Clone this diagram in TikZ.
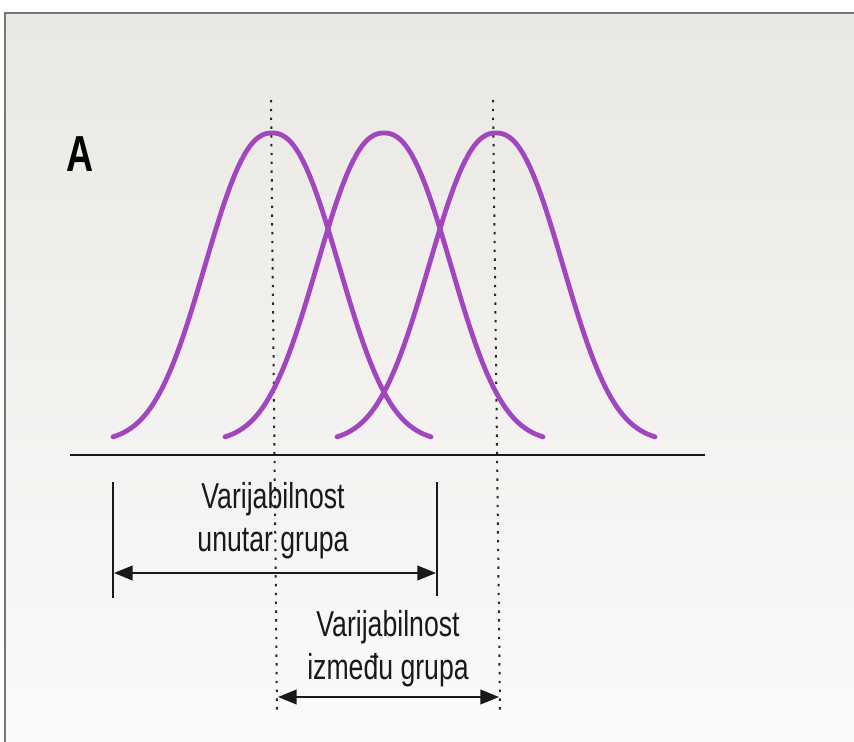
\documentclass[tikz,border=0pt]{standalone}
\usepackage{fontspec}
\newfontfamily\labfont[FakeStretch=0.74]{Liberation Sans}
\usetikzlibrary{arrows.meta}
\definecolor{bell}{RGB}{162,70,192}
\definecolor{framegray}{RGB}{118,118,118}
\tikzset{
  bellcurve/.style={draw=bell, line width=3.6pt, line cap=round},
  guide/.style={draw=black!85, line width=1.5pt, dash pattern=on 1.8pt off 4.8pt},
  tick/.style={draw=black!90, line width=1.3pt},
  span/.style={draw=black!90, line width=1.4pt, {Triangle[length=14pt,width=11pt]}-{Triangle[length=14pt,width=11pt]}},
  lab/.style={font=\labfont\fontsize{27}{32.3}\selectfont, align=center, inner sep=0pt, text=black!90},
}
\begin{document}
\begin{tikzpicture}[x=0.75pt,y=-0.75pt]
\useasboundingbox (0,0) rectangle (854,742);
\fill[white] (0,0) rectangle (854,742);
\shade[top color={rgb,255:red,234;green,232;blue,228}, bottom color={rgb,255:red,250;green,250;blue,249}] (5,13) rectangle (854,742);
\draw[framegray, line width=2pt] (5,742) -- (5,13) -- (854,13);

% panel letter
\node[font=\labfont\bfseries\fontsize{38}{40}\selectfont, inner sep=0pt] (A) at (80,154) {A};

% dotted guides
\coordinate (g1t) at (271,100); \coordinate (g1b) at (277,711);
\coordinate (g2t) at (493,100); \coordinate (g2b) at (500,711);
\draw[guide] (g1t) -- (g1b);
\draw[guide] (g2t) -- (g2b);

% bell curves
\foreach \c in {272,384,496}{
  \draw[bellcurve] plot[domain=-159:159, samples=90, smooth] ({\c+\x},{442-309*exp(-((abs(\x)+0.01)/86.2)^2.3)});
}

% axis
\coordinate (ax1) at (70,455); \coordinate (ax2) at (705,455);
\draw[black!90, line width=1.7pt] (ax1) -- (ax2);

% within-group span
\coordinate (w1t) at (113,482); \coordinate (w1b) at (113,598);
\coordinate (w2t) at (437,482); \coordinate (w2b) at (437,596);
\draw[tick] (w1t) -- (w1b);
\draw[tick] (w2t) -- (w2b);
\coordinate (wa1) at (114,573); \coordinate (wa2) at (436,573);
\draw[span] (wa1) -- (wa2);
\node[lab] (t1) at (273,521) {Varijabilnost\\unutar grupa};

% between-group span
\coordinate (ba1) at (278,697); \coordinate (ba2) at (499,697);
\draw[span] (ba1) -- (ba2);
\node[lab] (t2) at (388,649) {Varijabilnost\\između grupa};
\end{tikzpicture}
\end{document}
